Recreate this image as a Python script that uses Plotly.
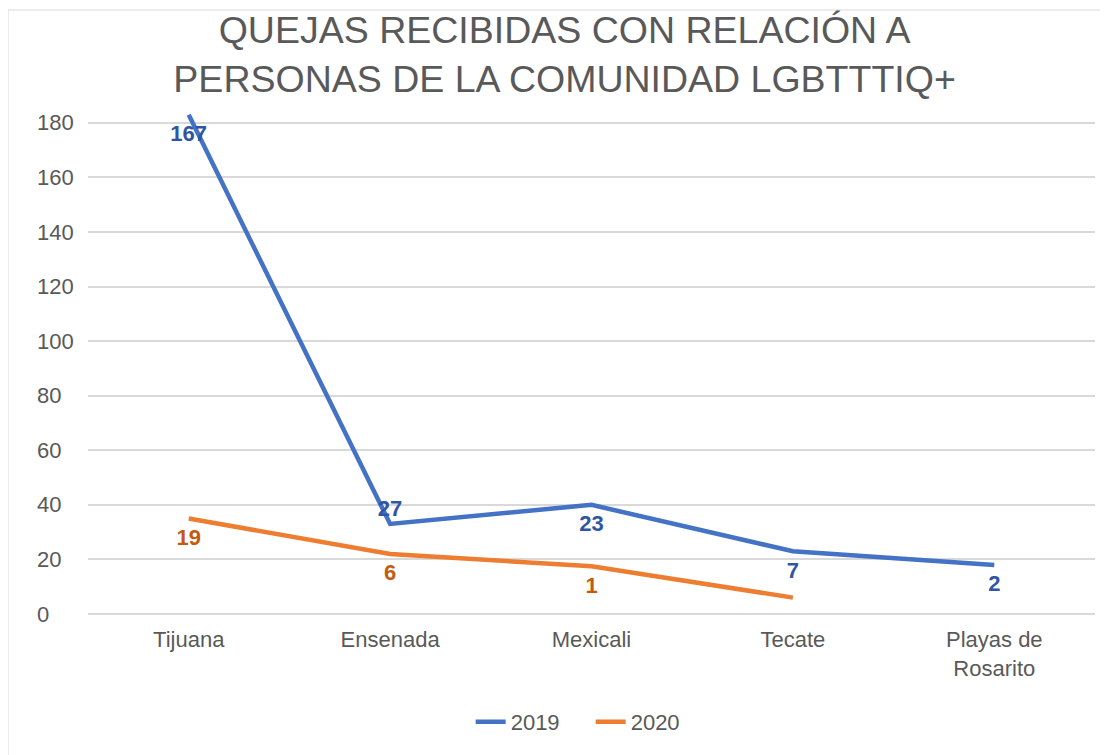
import plotly.graph_objects as go

categories = ["Tijuana", "Ensenada", "Mexicali", "Tecate", "Playas de<br>Rosarito"]
plotted_2019 = [183, 33, 40, 23, 18]
labels_2019 = ["167", "27", "23", "7", "2"]
plotted_2020 = [35, 22, 17.5, 6]
labels_2020 = ["19", "6", "1", ""]
y_ticks = [0, 20, 40, 60, 80, 100, 120, 140, 160, 180]

GRAY = "#595959"
FONT = "Liberation Sans, Arial, sans-serif"
CLEAR = "rgba(0,0,0,0)"

fig = go.Figure()
fig.add_trace(go.Scatter(
    x=categories, y=plotted_2019, name="2019", mode="lines+markers+text",
    line=dict(color="#4472C4", width=4.5),
    marker=dict(size=[14, 2, 14, 14, 14], color=CLEAR, opacity=0, line=dict(width=0, color=CLEAR)),
    text=labels_2019,
    textposition=["bottom center", "top center", "bottom center", "bottom center", "bottom center"],
    textfont=dict(family=FONT, size=22, color="#2F55A4", weight="bold"),
    cliponaxis=False,
))
fig.add_trace(go.Scatter(
    x=categories[:len(plotted_2020)], y=plotted_2020, name="2020", mode="lines+markers+text",
    line=dict(color="#ED7D31", width=4.5),
    marker=dict(size=14, color=CLEAR, opacity=0, line=dict(width=0, color=CLEAR)),
    text=labels_2020, textposition="bottom center",
    textfont=dict(family=FONT, size=22, color="#C55A11", weight="bold"),
    cliponaxis=False,
))

annotations = [
    dict(x=0, y=v, xref="paper", yref="y", xshift=-53, xanchor="left", yanchor="middle",
         text=str(v), showarrow=False, font=dict(family=FONT, size=22, color=GRAY))
    for v in y_ticks
]

W, H = 1100, 747
fig.update_layout(
    width=W, height=H,
    margin=dict(l=80, r=13, t=104, b=141),
    paper_bgcolor="white", plot_bgcolor="white",
    font=dict(family=FONT, color=GRAY, size=22),
    title=dict(
        text="QUEJAS RECIBIDAS CON RELACIÓN A<br>PERSONAS DE LA COMUNIDAD LGBTTTIQ+",
        x=0.506, xanchor="center", y=1 - 35 / H, yanchor="middle", yref="container",
        font=dict(family=FONT, size=37.5, color=GRAY),
    ),
    xaxis=dict(showgrid=False, showline=False, ticks="", tickfont=dict(size=22, color=GRAY),
               range=[-0.5, 4.5], ticklabelstandoff=10),
    yaxis=dict(range=[0, 184], tickvals=y_ticks, showticklabels=False, showgrid=True,
               gridcolor="#D9D9D9", gridwidth=1.5, zeroline=True, zerolinecolor="#D9D9D9",
               zerolinewidth=1.5, showline=False),
    legend=dict(orientation="h", x=0.380, xanchor="left", y=-0.215, yanchor="middle",
                font=dict(size=22, color=GRAY), itemwidth=30,
                entrywidth=75, entrywidthmode="pixels"),
    annotations=annotations,
    shapes=[dict(type="rect", xref="paper", yref="paper", xsizemode="pixel", ysizemode="pixel",
                 xanchor=0, yanchor=1, x0=-80, x1=1200, y0=102, y1=-900,
                 line=dict(color="#D9D9D9", width=1), fillcolor="rgba(0,0,0,0)", layer="below")],
)

fig.write_html("out.html")
